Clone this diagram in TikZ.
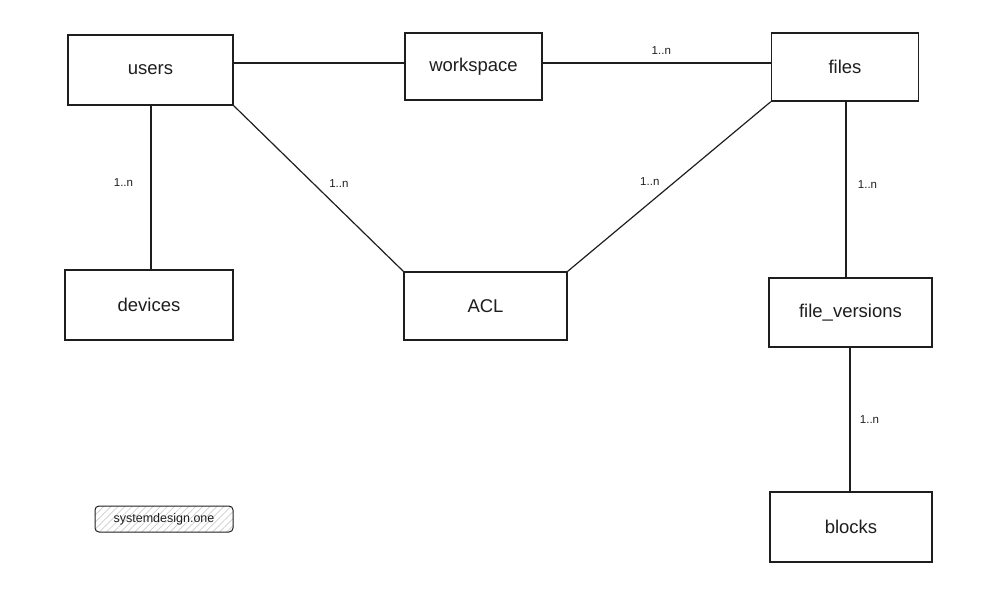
\documentclass[tikz,border=0pt]{standalone}
\usepackage{fontspec}
\setmainfont{Liberation Sans}
\usetikzlibrary{patterns.meta}
\definecolor{ink}{HTML}{1E1E1E}
\begin{document}
\begin{tikzpicture}[x=1pt,y=-1pt,
  entity/.style={draw=ink,line width=1.4pt,fill=white,inner sep=0pt,font=\fontsize{18.5}{22}\selectfont,text=ink},
  link/.style={draw=ink,line width=1.2pt},
  card/.style={font=\fontsize{11.5}{13}\selectfont,text=ink}]
\useasboundingbox (0,0) rectangle (1004,589);
\node[entity,minimum width=165pt,minimum height=70pt] (users) at (150.5,70) {users};
\node[entity,minimum width=137pt,minimum height=67pt] (workspace) at (473.5,66.5) {workspace};
\node[entity,minimum width=147pt,minimum height=68pt] (files) at (845,67) {files};
\node[entity,minimum width=168pt,minimum height=70pt] (devices) at (149,305) {devices};
\node[entity,minimum width=163pt,minimum height=68pt] (acl) at (485.5,306) {ACL};
\node[entity,minimum width=163pt,minimum height=69pt] (fv) at (850.5,312.5) {file\_versions};
\node[entity,minimum width=162pt,minimum height=70pt] (blocks) at (851,527) {blocks};
\node[draw=ink,line width=1pt,rounded corners=4pt,pattern={Lines[angle=45,distance=5pt,line width=0.7pt]},pattern color=gray!40,minimum width=138pt,minimum height=26pt,inner sep=0pt] (wm) at (164,519) {};
\node[font=\fontsize{12.5}{14}\selectfont,text=ink] (wmt) at (wm.center) {systemdesign.one};
\draw[link] (users.east |- 0,63) -- (workspace.west |- 0,63);
\draw[link] (workspace.east |- 0,63) -- node[card,above=5pt,pos=0.52] {1..n} (files.west |- 0,63);
\draw[link] (users.south -| 151,0) -- node[card,left=14pt,pos=0.47] {1..n} (devices.north -| 151,0);
\draw[link] (users.south east) -- node[card,pos=0.47,right=12pt] {1..n} (acl.north west);
\draw[link] (files.south west) -- node[card,pos=0.47,left=12pt] {1..n} (acl.north east);
\draw[link] (files.south -| 846,0) -- node[card,pos=0.47,right=8pt] {1..n} (fv.north -| 846,0);
\draw[link] (fv.south -| 850,0) -- node[card,pos=0.5,right=6pt] {1..n} (blocks.north -| 850,0);
\end{tikzpicture}
\end{document}
